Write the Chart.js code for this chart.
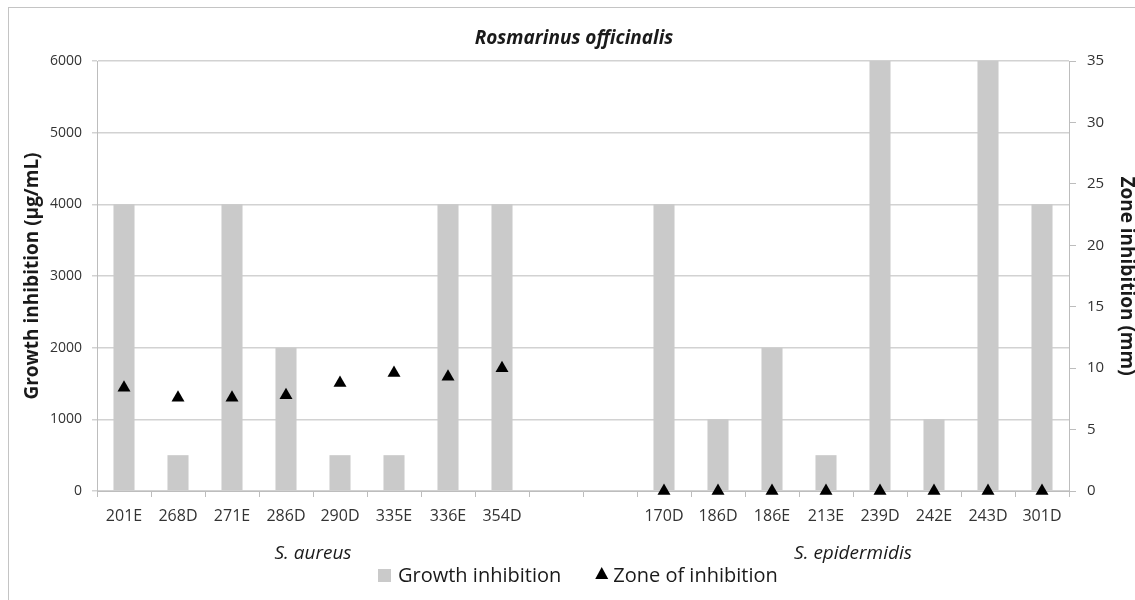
<!DOCTYPE html>
<html>
<head>
<meta charset="utf-8">
<script src="https://cdn.jsdelivr.net/npm/chart.js@4.4.1/dist/chart.umd.min.js"></script>
<style>
  html, body { margin: 0; padding: 0; background: #fff; overflow: hidden; }
  #frame { position: absolute; left: 8px; top: 7px; width: 1140px; height: 600px; border: 1px solid #c4c4c4; }
  #graphchart { position: absolute; left: 0; top: 0; }
</style>
</head>
<body>
<div id="frame"></div>
<canvas id="graphchart" width="1135" height="600"></canvas>
<script>
// strains (two empty slots separate the species)
var strains = ['201E', '268D', '271E', '286D', '290D', '335E', '336E', '354D', '', '',
               '170D', '186D', '186E', '213E', '239D', '242E', '243D', '301D']
// growth inhibition, µg/mL
var growthInhibition = [4000, 500, 4000, 2000, 500, 500, 4000, 4000, null, null,
                        4000, 1000, 2000, 500, 6000, 1000, 6000, 4000]
// zone of inhibition, mm
var zoneInhibition = [8.4, 7.6, 7.6, 7.8, 8.8, 9.6, 9.3, 10.0, null, null,
                      0, 0, 0, 0, 0, 0, 0, 0]
var speciesNames = ['S. aureus', 'S. epidermidis']
var speciesFirst = [0, 10]
var speciesLast = [7, 17]

var barChart = null

// title, species names and legend drawn on the canvas
var extraText = {
    id: 'extraText',
    afterDraw: function (chart) {
        var ctx = chart.ctx
        var x = chart.scales.x
        ctx.save()
        ctx.fillStyle = '#1a1a1a'
        ctx.textBaseline = 'middle'
        ctx.textAlign = 'center'

        ctx.font = 'italic bold 19px "Open Sans"'
        ctx.fillText('Rosmarinus officinalis', 574, 39)

        ctx.font = 'italic 19px "Open Sans"'
        for (var i = 0; i < speciesNames.length; i++) {
            var mid = (x.getPixelForTick(speciesFirst[i]) + x.getPixelForTick(speciesLast[i])) / 2
            ctx.fillText(speciesNames[i], mid, 554)
        }

        // legend
        ctx.font = '20px "Open Sans"'
        ctx.textAlign = 'left'
        var lx = 378, ly = 576
        ctx.fillStyle = '#cacaca'
        ctx.fillRect(lx, ly - 7, 13, 13)
        ctx.fillStyle = '#1a1a1a'
        ctx.fillText('Growth inhibition', lx + 20, ly)
        lx = lx + 20 + ctx.measureText('Growth inhibition').width + 34
        ctx.fillStyle = '#000'
        ctx.beginPath()
        ctx.moveTo(lx + 6.5, ly - 9)
        ctx.lineTo(lx + 13, ly + 3)
        ctx.lineTo(lx, ly + 3)
        ctx.closePath()
        ctx.fill()
        ctx.fillStyle = '#1a1a1a'
        ctx.fillText('Zone of inhibition', lx + 18, ly)
        ctx.restore()
    }
}

function showgraphic() {
    var ctx = document.getElementById('graphchart')
    Chart.defaults.font.family = '"Open Sans"'
    Chart.defaults.color = '#333'

    barChart = new Chart(ctx, {
        type: 'bar',
        data: {
            labels: strains,
            datasets: [{
                type: 'line',
                label: 'Zone of inhibition',
                data: zoneInhibition,
                yAxisID: 'y1',
                showLine: false,
                pointStyle: 'triangle',
                pointRadius: 7.5,
                backgroundColor: '#000',
                borderColor: '#000',
                borderWidth: 0,
                clip: false,
                order: 0
            }, {
                label: 'Growth inhibition',
                data: growthInhibition,
                yAxisID: 'y',
                backgroundColor: '#cacaca',
                borderWidth: 0,
                categoryPercentage: 1,
                barPercentage: 0.39,
                order: 1
            }]
        },
        options: {
            responsive: false,
            animation: false,
            layout: { padding: { top: 61, bottom: 0, left: 0, right: 0 } },
            scales: {
                x: {
                    grid: { offset: true, drawOnChartArea: false, tickLength: 6, color: '#bdbdbd' },
                    border: { color: '#bdbdbd' },
                    ticks: { font: { size: 16 }, padding: 10, maxRotation: 0, autoSkip: false },
                    afterFit: function (scale) { scale.height = 109 }
                },
                y: {
                    position: 'left',
                    min: 0,
                    max: 6000,
                    ticks: {
                        stepSize: 1000,
                        font: { size: 14 },
                        padding: 10,
                        callback: function (value) { return String(value) }
                    },
                    grid: { color: '#d2d2d2', lineWidth: 1.5, tickLength: 5 },
                    border: { color: '#bdbdbd' },
                    title: {
                        display: true,
                        text: 'Growth inhibition (µg/mL)',
                        color: '#1a1a1a',
                        font: { size: 19, weight: 'bold' },
                        padding: { top: 21, bottom: 0 }
                    },
                    afterFit: function (scale) { scale.width = 97 }
                },
                y1: {
                    position: 'right',
                    min: 0,
                    max: 35,
                    ticks: { stepSize: 5, font: { size: 15 }, padding: 11 },
                    grid: { drawOnChartArea: false, tickLength: 7, color: '#bdbdbd' },
                    border: { color: '#bdbdbd' },
                    title: {
                        display: true,
                        text: 'Zone inhibition (mm)',
                        color: '#1a1a1a',
                        font: { size: 19, weight: 'bold' },
                        padding: { top: -3, bottom: 0 }
                    },
                    afterFit: function (scale) { scale.width = 66 }
                }
            },
            plugins: {
                legend: { display: false },
                tooltip: { enabled: false }
            }
        },
        plugins: [extraText]
    });
}

document.addEventListener('DOMContentLoaded', showgraphic);
</script>
</body>
</html>
